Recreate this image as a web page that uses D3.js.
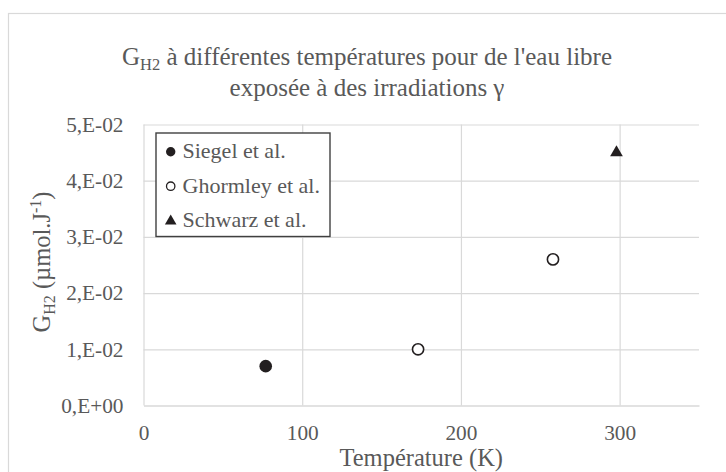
<!DOCTYPE html>
<html>
<head>
<meta charset="utf-8">
<script src="https://cdn.jsdelivr.net/npm/d3@7"></script>
<style>
  html, body { margin: 0; padding: 0; background: #fff; }
  svg text { font-family: "Liberation Serif", "Times New Roman", serif; }
</style>
</head>
<body>
<svg id="chart" width="726" height="472"></svg>
<script>
// Radiolytic H2 yields of free water under gamma irradiation
const siegelT = [77];
const siegelG = [0.007];
const ghormleyT = [173, 258];
const ghormleyG = [0.010, 0.026];
const schwarzT = [298];
const schwarzG = [0.045];

const xTicks = [0, 100, 200, 300];
const yTicks = [0, 0.01, 0.02, 0.03, 0.04, 0.05];
const yTickLabels = ["0,E+00", "1,E-02", "2,E-02", "3,E-02", "4,E-02", "5,E-02"];
const legendNames = ["Siegel et al.", "Ghormley et al.", "Schwarz et al."];

const svg = d3.select("#chart");
const W = 726, H = 472;
const textGray = "#595959";
const gridGray = "#d9d9d9";
const ink = "#231f20";
const serif = '"Liberation Serif", "Times New Roman", serif';

// chart frame (runs past the right and bottom edges)
svg.append("rect")
  .attr("x", 8.5).attr("y", 13.5)
  .attr("width", W + 20).attr("height", H + 20)
  .attr("fill", "#fff").attr("stroke", gridGray).attr("stroke-width", 1.2);

const plot = { left: 143.5, right: 699, top: 124.5, bottom: 405.5 };
const x = d3.scaleLinear().domain([0, 350]).range([plot.left, plot.right]);
const y = d3.scaleLinear().domain([0, 0.05]).range([plot.bottom, plot.top]);

// horizontal gridlines
svg.append("g")
  .attr("transform", `translate(${plot.left},0)`)
  .call(d3.axisLeft(y).tickValues(yTicks.slice(1)).tickSize(-(plot.right - plot.left)).tickFormat(""))
  .call(g => g.select(".domain").remove())
  .call(g => g.selectAll("line").attr("stroke", gridGray).attr("stroke-width", 1.2));

// vertical gridlines
svg.append("g")
  .attr("transform", `translate(0,${plot.bottom})`)
  .call(d3.axisBottom(x).tickValues(xTicks).tickSize(-(plot.bottom - plot.top)).tickFormat(""))
  .call(g => g.select(".domain").remove())
  .call(g => g.selectAll("line").attr("stroke", gridGray).attr("stroke-width", 1.2));

// x axis baseline + labels
const xAxis = svg.append("g")
  .attr("transform", `translate(0,${plot.bottom})`)
  .call(d3.axisBottom(x).tickValues(xTicks).tickSize(0).tickPadding(19).tickFormat(d3.format("d")));
xAxis.select(".domain").attr("stroke", gridGray).attr("stroke-width", 1.5);
xAxis.selectAll("text").attr("fill", textGray).attr("font-size", 21.3)
  .style("font-family", serif);

// y axis labels
const yAxis = svg.append("g")
  .attr("transform", `translate(${plot.left},0)`)
  .call(d3.axisLeft(y).tickValues(yTicks).tickSize(0).tickPadding(20)
    .tickFormat((d, i) => yTickLabels[i]));
yAxis.select(".domain").remove();
yAxis.selectAll("text").attr("fill", textGray).attr("font-size", 21.3)
  .style("font-family", serif);

// markers
svg.append("g").selectAll("circle")
  .data(d3.zip(siegelT, siegelG)).join("circle")
  .attr("cx", d => x(d[0])).attr("cy", d => y(d[1]))
  .attr("r", 6.3).attr("fill", ink);

svg.append("g").selectAll("circle")
  .data(d3.zip(ghormleyT, ghormleyG)).join("circle")
  .attr("cx", d => x(d[0])).attr("cy", d => y(d[1]))
  .attr("r", 5.6).attr("fill", "#fff").attr("stroke", ink).attr("stroke-width", 1.6);

svg.append("g").selectAll("path")
  .data(d3.zip(schwarzT, schwarzG)).join("path")
  .attr("d", d3.symbol().type(d3.symbolTriangle).size(70))
  .attr("transform", d => `translate(${x(d[0])},${y(d[1])})`)
  .attr("fill", ink);

// title
const titleX = 367;
const title = svg.append("text")
  .attr("x", titleX).attr("y", 65)
  .attr("text-anchor", "middle").attr("fill", textGray).attr("font-size", 25);
title.append("tspan").text("G");
title.append("tspan").attr("font-size", 16.5).attr("dy", 5).text("H2");
title.append("tspan").attr("dy", -5).text(" à différentes températures pour de l'eau libre");
svg.append("text")
  .attr("x", titleX).attr("y", 96)
  .attr("text-anchor", "middle").attr("fill", textGray).attr("font-size", 25)
  .text("exposée à des irradiations γ");

// x axis title
svg.append("text")
  .attr("x", (plot.left + plot.right) / 2).attr("y", 466)
  .attr("text-anchor", "middle").attr("fill", textGray).attr("font-size", 24.5)
  .text("Température (K)");

// y axis title
const yt = svg.append("text")
  .attr("transform", `translate(50,262) rotate(-90)`)
  .attr("text-anchor", "middle").attr("fill", textGray).attr("font-size", 24.5);
yt.append("tspan").text("G");
yt.append("tspan").attr("font-size", 16).attr("dy", 5).text("H2");
yt.append("tspan").attr("dy", -5).text(" (µmol.J");
yt.append("tspan").attr("font-size", 16).attr("dy", -9).text("-1");
yt.append("tspan").attr("dy", 9).text(")");

// legend
const lg = svg.append("g");
lg.append("rect")
  .attr("x", 156).attr("y", 133).attr("width", 174).attr("height", 103.5)
  .attr("fill", "#fff").attr("stroke", "#404040").attr("stroke-width", 1.4);
const rowBase = [158.3, 192.7, 227.2];
legendNames.forEach((name, i) => {
  const cy = rowBase[i] - 6.5, cx = 170.7;
  if (i === 0) lg.append("circle").attr("cx", cx).attr("cy", cy).attr("r", 4.7).attr("fill", ink);
  if (i === 1) lg.append("circle").attr("cx", cx).attr("cy", cy).attr("r", 4.2)
    .attr("fill", "#fff").attr("stroke", ink).attr("stroke-width", 1.3);
  if (i === 2) lg.append("path").attr("d", d3.symbol().type(d3.symbolTriangle).size(58))
    .attr("transform", `translate(${cx},${cy + 0.5})`).attr("fill", ink);
  lg.append("text").attr("x", 182.5).attr("y", rowBase[i])
    .attr("fill", textGray).attr("font-size", 22).text(name);
});
</script>
</body>
</html>
